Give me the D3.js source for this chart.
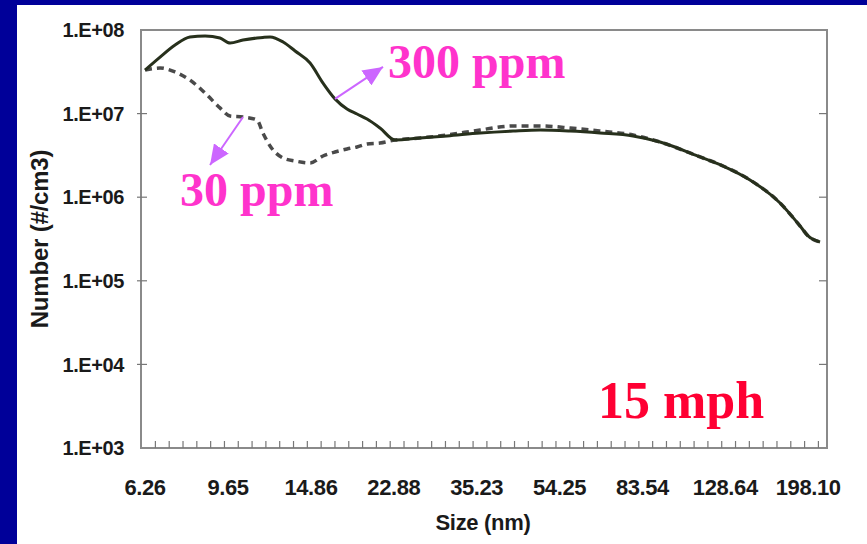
<!DOCTYPE html>
<html>
<head>
<meta charset="utf-8">
<script src="https://cdn.jsdelivr.net/npm/d3@7"></script>
<style>
    body { margin: 0; padding: 0; background: #000099; }
    svg { display: block; }
</style>
</head>
<body>
<svg id="chart"></svg>
<script>

// particle size (nm) at each sampled point of the curves
const sizes = [6.26, 6.77, 7.32, 7.91, 8.56, 9.25, 9.75, 10.43, 11.22, 11.57, 12.01, 12.85, 13.68,
    14.79, 15.82, 16.84, 17.93, 18.89, 19.90, 21.29, 23.03, 26.23, 30.20, 35.86, 42.58, 49.01,
    57.30, 66.99, 79.54, 91.57, 112.8, 127.2, 146.3, 171.1, 189.9, 198.0, 210.7];

// number concentration (#/cm3), 300 ppm sulfur fuel
const ppm300 = [3.32e7, 4.75e7, 6.62e7, 8.25e7, 8.48e7, 8.02e7, 6.99e7, 7.59e7, 8.02e7, 8.15e7, 8.25e7, 7.19e7, 5.61e7,
    4.03e7, 2.32e7, 1.50e7, 1.135e7, 9.89e6, 8.61e6, 6.73e6, 4.83e6, 5.11e6, 5.40e6, 5.86e6, 6.19e6, 6.37e6,
    6.19e6, 5.86e6, 5.40e6, 4.57e6, 3.03e6, 2.36e6, 1.61e6, 8.52e5, 4.52e5, 3.44e5, 2.91e5];

// number concentration (#/cm3), 30 ppm sulfur fuel
const ppm30 = [3.32e7, 3.51e7, 3.15e7, 2.52e7, 1.76e7, 1.17e7, 9.36e6, 9.11e6, 8.38e6, 5.86e6, 4.10e6, 2.94e6, 2.71e6,
    2.57e6, 3.11e6, 3.47e6, 3.77e6, 3.99e6, 4.33e6, 4.45e6, 4.83e6, 5.11e6, 5.55e6, 6.37e6, 7.11e6, 7.11e6,
    6.73e6, 6.19e6, 5.55e6, 4.57e6, 3.03e6, 2.36e6, 1.61e6, 8.52e5, 4.52e5, 3.44e5, 2.91e5];

const sizeLabels = ["6.26", "9.65", "14.86", "22.88", "35.23", "54.25", "83.54", "128.64", "198.10"];
const numberTicks = [1e3, 1e4, 1e5, 1e6, 1e7, 1e8];
const numberLabels = ["1.E+03", "1.E+04", "1.E+05", "1.E+06", "1.E+07", "1.E+08"];

const width = 867, height = 544;
const plot = {left: 141, right: 827, top: 30, bottom: 448};

const svg = d3.select("#chart")
    .attr("width", width)
    .attr("height", height);

// white slide panel on the blue background
svg.append("rect")
    .attr("x", 0).attr("y", 0)
    .attr("width", width).attr("height", height)
    .attr("fill", "#000099");
svg.append("rect")
    .attr("x", 17).attr("y", 5)
    .attr("width", width - 17).attr("height", height - 5)
    .attr("fill", "#ffffff");

const x = d3.scaleLog()
    .domain([6.13, 218.5])
    .range([plot.left, plot.right]);

const y = d3.scaleLog()
    .domain([1e3, 1e8])
    .range([plot.bottom, plot.top]);

// frame
svg.append("rect")
    .attr("x", plot.left).attr("y", plot.top)
    .attr("width", plot.right - plot.left)
    .attr("height", plot.bottom - plot.top)
    .attr("fill", "none")
    .attr("stroke", "#8a8a8a")
    .attr("stroke-width", 2);

// small ticks along the size axis, one every two channels (64 channels/decade)
const minorTicks = d3.range(0, 51).map(k => 6.26 * Math.pow(10, (2 * k - 0.5) / 64))
    .filter(v => x(v) > plot.left + 1 && x(v) < plot.right - 1);
svg.append("g")
    .selectAll("line")
    .data(minorTicks)
    .join("line")
    .attr("x1", d => x(d)).attr("x2", d => x(d))
    .attr("y1", plot.bottom).attr("y2", plot.bottom - 7)
    .attr("stroke", "#777")
    .attr("stroke-width", 1.2);

// decade ticks on both vertical axes
const yTicks = svg.append("g");
yTicks.selectAll("line.left")
    .data(numberTicks.slice(1, -1))
    .join("line")
    .attr("class", "left")
    .attr("x1", plot.left - 4).attr("x2", plot.left + 6)
    .attr("y1", d => y(d)).attr("y2", d => y(d))
    .attr("stroke", "#777").attr("stroke-width", 1.2);
yTicks.selectAll("line.right")
    .data(numberTicks.slice(1, -1))
    .join("line")
    .attr("class", "right")
    .attr("x1", plot.right - 8).attr("x2", plot.right)
    .attr("y1", d => y(d)).attr("y2", d => y(d))
    .attr("stroke", "#777").attr("stroke-width", 1.2);

// tick labels
svg.append("g")
    .selectAll("text")
    .data(numberTicks)
    .join("text")
    .attr("x", 124)
    .attr("y", d => y(d))
    .attr("dy", "0.36em")
    .attr("text-anchor", "end")
    .attr("font-family", "Liberation Sans, Arial, sans-serif")
    .attr("font-weight", "bold")
    .attr("font-size", 20)
    .attr("letter-spacing", -0.4)
    .attr("fill", "#1a1a1a")
    .text((d, i) => numberLabels[i]);

svg.append("g")
    .selectAll("text")
    .data(sizeLabels)
    .join("text")
    .attr("x", d => x(+d))
    .attr("y", 495)
    .attr("text-anchor", "middle")
    .attr("font-family", "Liberation Sans, Arial, sans-serif")
    .attr("font-weight", "bold")
    .attr("font-size", 22)
    .attr("letter-spacing", -0.4)
    .attr("fill", "#1a1a1a")
    .text(d => d);

// axis titles
svg.append("text")
    .attr("x", 483).attr("y", 530)
    .attr("text-anchor", "middle")
    .attr("font-family", "Liberation Sans, Arial, sans-serif")
    .attr("font-weight", "bold")
    .attr("font-size", 22)
    .attr("letter-spacing", -0.3)
    .attr("fill", "#1a1a1a")
    .text("Size (nm)");

svg.append("text")
    .attr("transform", "translate(48,239) rotate(-90)")
    .attr("text-anchor", "middle")
    .attr("font-family", "Liberation Sans, Arial, sans-serif")
    .attr("font-weight", "bold")
    .attr("font-size", 24)
    .attr("letter-spacing", -0.2)
    .attr("fill", "#1a1a1a")
    .text("Number (#/cm3)");

// curves
const line = d3.line()
    .x(d => x(d[0]))
    .y(d => y(d[1]))
    .curve(d3.curveMonotoneX);

svg.append("path")
    .datum(sizes.map((s, i) => [s, ppm30[i]]))
    .attr("d", line)
    .attr("fill", "none")
    .attr("stroke", "#4a4a4a")
    .attr("stroke-width", 3.5)
    .attr("stroke-dasharray", "7,5");

svg.append("path")
    .datum(sizes.map((s, i) => [s, ppm300[i]]))
    .attr("d", line)
    .attr("fill", "none")
    .attr("stroke", "#27301c")
    .attr("stroke-width", 3);

// annotation arrows
svg.append("defs").append("marker")
    .attr("id", "head")
    .attr("markerUnits", "userSpaceOnUse")
    .attr("viewBox", "0 -9 20 18")
    .attr("refX", 20).attr("refY", 0)
    .attr("markerWidth", 20).attr("markerHeight", 18)
    .attr("orient", "auto")
    .append("path")
    .attr("d", "M0,-9L20,0L0,9Z")
    .attr("fill", "#cc66ff");

// 300 ppm: from the falling edge of the solid curve up to the label
svg.append("line")
    .attr("x1", x(16.84)).attr("y1", y(1.50e7))
    .attr("x2", x(16.84) + 48).attr("y2", y(1.50e7) - 32)
    .attr("stroke", "#cc66ff")
    .attr("stroke-width", 2)
    .attr("marker-end", "url(#head)");

// 30 ppm: from the shoulder of the dashed curve down to the label
svg.append("line")
    .attr("x1", x(10.43)).attr("y1", y(9.11e6))
    .attr("x2", x(10.43) - 33).attr("y2", y(9.11e6) + 48)
    .attr("stroke", "#cc66ff")
    .attr("stroke-width", 2)
    .attr("marker-end", "url(#head)");

const notes = [
    {text: "300 ppm", x: 388, y: 78, size: 48, color: "#ff33cc"},
    {text: "30 ppm", x: 180, y: 206, size: 48, color: "#ff33cc"},
    {text: "15 mph", x: 598, y: 418, size: 52, color: "#ff0033"}
];

svg.append("g")
    .selectAll("text")
    .data(notes)
    .join("text")
    .attr("x", d => d.x)
    .attr("y", d => d.y)
    .attr("font-family", "Liberation Serif, Times New Roman, serif")
    .attr("font-weight", "bold")
    .attr("font-size", d => d.size)
    .attr("fill", d => d.color)
    .text(d => d.text);

</script>
</body>
</html>
